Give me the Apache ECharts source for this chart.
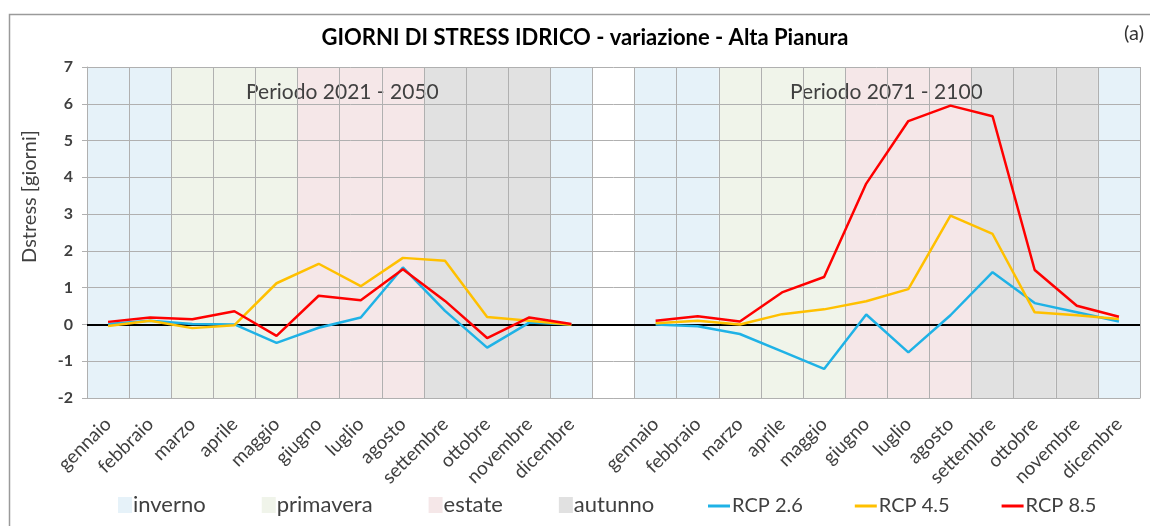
<!DOCTYPE html>
<html>
<head>
<meta charset="utf-8">
<title>Giorni di stress idrico</title>
<script src="https://cdn.jsdelivr.net/npm/echarts@6/dist/echarts.min.js"></script>
<style>
    html, body { margin: 0; padding: 0; background: #fff; }
    #chart { width: 1150px; height: 526px; }
</style>
</head>
<body>
<div id="chart"></div>
<script>
    // mesi e stagioni
    var mesi = ['gennaio', 'febbraio', 'marzo', 'aprile', 'maggio', 'giugno',
                'luglio', 'agosto', 'settembre', 'ottobre', 'novembre', 'dicembre'];
    var stagioneMese = ['inverno', 'inverno', 'primavera', 'primavera', 'primavera', 'estate',
                        'estate', 'estate', 'autunno', 'autunno', 'autunno', 'inverno'];
    var stagioni = ['inverno', 'primavera', 'estate', 'autunno'];
    var scenari = ['RCP 2.6', 'RCP 4.5', 'RCP 8.5'];
    var periodi = ['Periodo 2021 - 2050', 'Periodo 2071 - 2100'];

    // variazione Dstress [giorni] - periodo 2021-2050
    var rcp26_2021 = [0.01, 0.10, 0.01, 0.00, -0.50, -0.09, 0.19, 1.55, 0.37, -0.63, 0.05, 0.00];
    var rcp45_2021 = [-0.04, 0.10, -0.10, -0.02, 1.12, 1.65, 1.04, 1.81, 1.73, 0.20, 0.10, -0.01];
    var rcp85_2021 = [0.07, 0.19, 0.14, 0.36, -0.31, 0.78, 0.66, 1.50, 0.64, -0.37, 0.19, 0.01];

    // variazione Dstress [giorni] - periodo 2071-2100
    var rcp26_2071 = [0.00, -0.05, -0.26, -0.73, -1.21, 0.27, -0.76, 0.25, 1.42, 0.58, 0.33, 0.08];
    var rcp45_2071 = [0.03, 0.10, 0.00, 0.28, 0.41, 0.63, 0.96, 2.96, 2.46, 0.33, 0.25, 0.15];
    var rcp85_2071 = [0.10, 0.22, 0.08, 0.87, 1.29, 3.83, 5.53, 5.95, 5.66, 1.48, 0.51, 0.21];

    var coloriStagioni = { inverno: '#E6F2F9', primavera: '#F0F4EA', estate: '#F5E7E8', autunno: '#E1E1E1' };
    var coloriRcp = { 'RCP 2.6': '#1FB2E6', 'RCP 4.5': '#FFC000', 'RCP 8.5': '#FF0000' };

    var fontBase = 'Lato, "Open Sans", sans-serif';

    // asse x: 12 mesi + colonna vuota + 12 mesi
    var categorie = mesi.concat(['']).concat(mesi);

    function unisci(a, b) {
        return a.concat([null]).concat(b);
    }

    // bande colorate delle stagioni (barre a tutta altezza sull'asse y secondario)
    var serieStagioni = stagioni.map(function (s) {
        var stag = stagioneMese.map(function (m) { return m === s ? 1 : '-'; });
        return {
            name: s,
            type: 'bar',
            yAxisIndex: 1,
            data: stag.concat(['-']).concat(stag),
            barWidth: '100%',
            barGap: '-100%',
            barCategoryGap: '0%',
            itemStyle: { color: coloriStagioni[s] },
            silent: true,
            z: -1
        };
    });

    var valoriRcp = [unisci(rcp26_2021, rcp26_2071), unisci(rcp45_2021, rcp45_2071), unisci(rcp85_2021, rcp85_2071)];
    var serieRcp = scenari.map(function (nome, i) {
        return {
            name: nome,
            type: 'line',
            data: valoriRcp[i],
            symbol: 'none',
            lineStyle: { color: coloriRcp[nome], width: 2.5 },
            itemStyle: { color: coloriRcp[nome] },
            z: 3
        };
    });

    // linea dello zero
    serieRcp[0].markLine = {
        silent: true,
        symbol: ['none', 'none'],
        label: { show: false },
        lineStyle: { color: '#000', width: 2, type: 'solid' },
        data: [{ yAxis: 0 }],
        z: 1
    };

    var chart = echarts.init(document.getElementById('chart'));
    chart.setOption({
        animation: false,
        backgroundColor: '#fff',
        textStyle: { fontFamily: fontBase },
        title: {
            text: 'GIORNI DI STRESS IDRICO - variazione - Alta Pianura',
            left: 580,
            textAlign: 'center',
            top: 22,
            textStyle: { fontSize: 22, fontWeight: 'bold', color: '#000', fontFamily: fontBase }
        },
        legend: [{
            left: 113,
            bottom: 5,
            itemGap: 56,
            itemWidth: 14,
            itemHeight: 16,
            textStyle: { fontSize: 22, color: '#404040', padding: [0, 0, 0, -4] },
            data: stagioni.map(function (s) { return { name: s, icon: 'rect' }; })
        }, {
            left: 703,
            bottom: 5,
            itemGap: 52,
            itemWidth: 22,
            itemHeight: 3,
            textStyle: { fontSize: 20, color: '#404040', padding: [0, 0, 0, -3] },
            data: scenari.map(function (s) { return { name: s, icon: 'rect' }; })
        }],
        grid: { left: 87, right: 10, top: 67, bottom: 128 },
        xAxis: {
            type: 'category',
            data: categorie,
            boundaryGap: true,
            axisLine: { show: true, onZero: false, lineStyle: { color: '#b0b0b0' } },
            axisTick: { show: false },
            axisLabel: { interval: 0, rotate: 45, fontSize: 19, color: '#404040', margin: 23 },
            splitLine: { show: true, lineStyle: { color: '#b0b0b0', width: 1 } }
        },
        yAxis: [{
            type: 'value',
            min: -2,
            max: 7,
            interval: 1,
            name: 'Dstress [giorni]',
            nameLocation: 'middle',
            nameGap: 47,
            nameTextStyle: { fontSize: 20, color: '#404040', padding: [0, 0, 0, 72] },
            axisLine: { show: true, lineStyle: { color: '#b0b0b0' } },
            axisTick: { show: true, length: 5, lineStyle: { color: '#b0b0b0' } },
            axisLabel: { fontSize: 16, fontWeight: 'bold', color: '#404040', margin: 14 },
            splitLine: { show: true, lineStyle: { color: '#b0b0b0', width: 1 } }
        }, {
            type: 'value',
            min: 0,
            max: 1,
            show: false,
            splitLine: { show: false }
        }],
        graphic: [{
            type: 'rect',
            left: 7,
            top: 12,
            shape: { width: 1160, height: 530 },
            style: { fill: 'none', stroke: '#9a9a9a', lineWidth: 1.5 },
            silent: true
        }, {
            type: 'text',
            right: 6,
            top: 24,
            style: { text: '(a)', fill: '#333', font: '20px ' + fontBase }
        }, {
            type: 'text',
            left: 246,
            top: 82,
            style: { text: periodi[0], fill: '#404040', font: '21px ' + fontBase }
        }, {
            type: 'text',
            left: 790,
            top: 82,
            style: { text: periodi[1], fill: '#404040', font: '21px ' + fontBase }
        }],
        series: serieStagioni.concat(serieRcp)
    });
</script>
</body>
</html>
